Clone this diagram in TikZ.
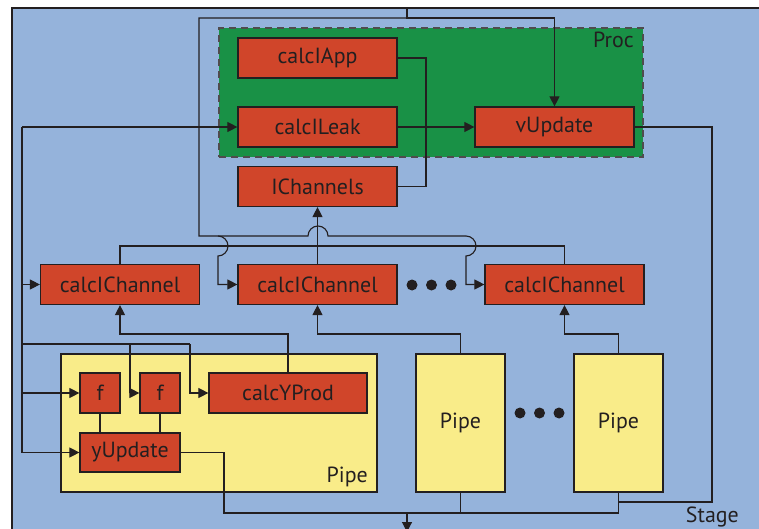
\documentclass[tikz,border=0pt]{standalone}
\usepackage{fontspec}
\setmainfont{PT Sans}
\usetikzlibrary{arrows.meta}
\definecolor{stageblue}{HTML}{95B3DB}
\definecolor{procgreen}{HTML}{199146}
\definecolor{blockred}{HTML}{D0452A}
\definecolor{pipeyellow}{HTML}{F9EC89}
\definecolor{ink}{HTML}{231F20}
\tikzset{
  lbl/.style={font=\fontsize{22}{24}\selectfont, text=ink, inner sep=0pt},
  block/.style={lbl, draw=ink, line width=1.2bp, fill=blockred,
    minimum width=159bp, minimum height=40bp},
  pipebox/.style={lbl, draw=ink, line width=1.2bp, fill=pipeyellow},
  wire/.style={draw=ink, line width=1.1bp},
  arr/.style={wire, -{Triangle[length=10bp,width=10bp]}},
  dot/.style={fill=ink}
}
\begin{document}
\begin{tikzpicture}[x=1bp, y=-1bp]
\useasboundingbox (0,0) rectangle (759,529);

% Stage
\fill[stageblue] (12,8) rectangle (762,532);
\draw[ink, line width=1.5bp] (762,8) -- (12,8) -- (12,532);
\node[lbl, anchor=base east] (stagelbl) at (739,522) {Stage};

% Proc
\node[draw=ink!80, dashed, dash pattern=on 7bp off 5bp, line width=1.2bp,
  fill=procgreen, minimum width=424bp, minimum height=129bp, inner sep=0pt]
  (proc) at (431,92.5) {};
\node[lbl, anchor=north east] (proclbl) at (634,32) {Proc};

\node[block] (app)  at (317.5,58)    {calcIApp};
\node[block] (leak) at (317.5,127)   {calcILeak};
\node[block] (vup)  at (554.5,127)   {vUpdate};
\node[block] (ich)  at (317.5,186.5) {IChannels};

\node[block] (c1) at (120,284.5)   {calcIChannel};
\node[block] (c2) at (317.5,284.5) {calcIChannel};
\node[block] (c3) at (564.5,284.5) {calcIChannel};
\fill[dot] (412,285) circle[radius=5.5bp] (431.5,285) circle[radius=5.5bp] (451,285) circle[radius=5.5bp];

% Pipes
\node[pipebox, minimum width=316bp, minimum height=138bp] (pipe1) at (219,423) {};
\node[lbl, anchor=base east] (pipe1lbl) at (368,482) {Pipe};
\node[block, minimum width=40bp] (f1) at (100,393) {f};
\node[block, minimum width=40bp] (f2) at (160,393) {f};
\node[block, minimum width=158bp] (prod) at (288,393) {calcYProd};
\node[block, minimum width=100bp, minimum height=39bp] (yupd) at (130,452.5) {yUpdate};

\node[pipebox, minimum width=89bp, minimum height=138bp] (pipe2) at (460.5,423) {Pipe};
\node[pipebox, minimum width=89bp, minimum height=138bp] (pipe3) at (618.5,423) {Pipe};
\fill[dot] (520,413) circle[radius=5.5bp] (539.5,413) circle[radius=5.5bp] (559,413) circle[radius=5.5bp];

% Stage input and its distribution
\coordinate (stagein) at (407,8);
\coordinate (topbus) at (407,18);
\draw[arr] (stagein) -- (topbus) -| (vup.north);
\draw[wire] (topbus) -| (199,236) -- (308,236)
  arc[start angle=180, end angle=0, radius=10bp] -- (466,236);
\draw[arr] (466,236) arc[start angle=90, end angle=-90, radius=10bp] |- (c3.west);
\draw[arr] (218,236) arc[start angle=90, end angle=-90, radius=10bp] |- (c2.west);

% Channel currents collected into IChannels
\draw[wire] (c1.north) -- (120,246) -| (c3.north);
\draw[arr] (c2.north) -- (ich.south);
\draw[wire] (app.east) -| (426,186.5) -- (ich.east);

% Proc internals
\draw[arr] (leak) -- (vup);

% Left feed bus
\coordinate (lbus) at (22,127);
\draw[arr] (lbus) -- (leak.west);
\draw[wire] (lbus) -- (22,452.5);
\draw[arr] (22,284.5) -- (c1.west);
\draw[arr] (22,393) -- (f1.west);
\draw[arr] (22,452.5) -- (yupd.west);
\draw[wire] (22,344) -- (190,344);
\draw[arr] (130,344) |- (f2.west);
\draw[arr] (190,344) |- (prod.west);

% Pipe internals
\draw[wire] (f1.south) -- (f1.south |- yupd.north);
\draw[wire] (f2.south) -- (f2.south |- yupd.north);

% Pipe outputs to channels
\draw[arr] (prod.north) -- (288,334) -| (c1.south);
\draw[arr] (pipe2.north) -- (460.5,334) -| (c2.south);
\draw[arr] (pipe3.north) -- (618.5,334) -| (c3.south);

% Outputs
\draw[wire] (vup.east) -| (712,502) -| (pipe3.south);
\draw[wire] (yupd.east) -| (224,513) -| (pipe3.south);
\draw[wire] (pipe2.south) -- (460.5,513);
\draw[arr] (407,513) -- (407,532);
\end{tikzpicture}
\end{document}
